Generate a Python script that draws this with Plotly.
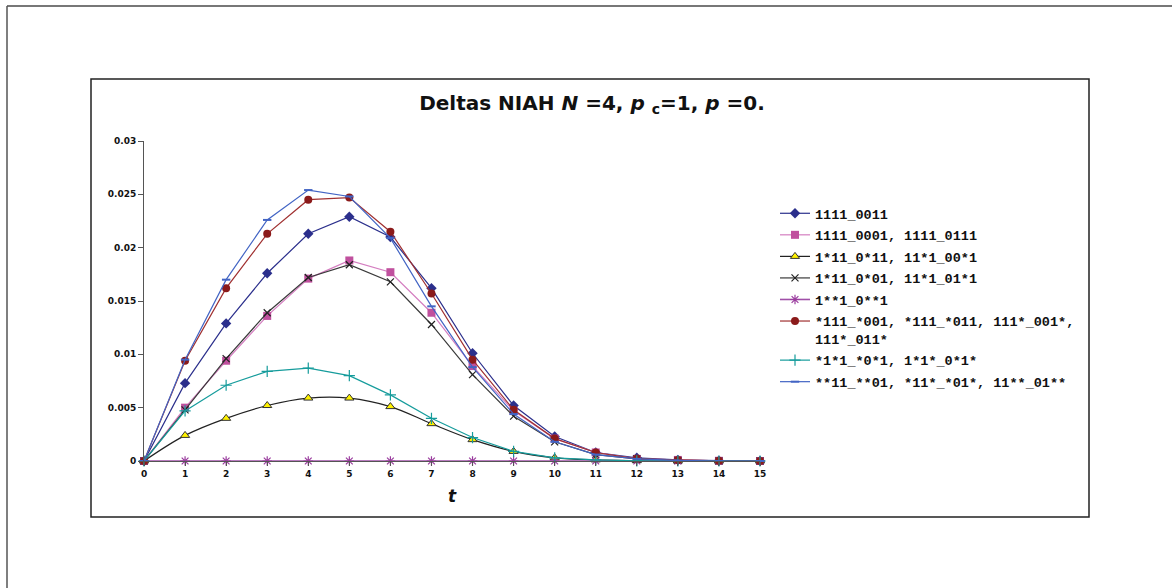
import plotly.graph_objects as go

W, H = 1172, 588

# time steps
t = list(range(16))

# series values (delta per time step)
s_1111_0011 = [0, 0.0073, 0.0129, 0.0176, 0.0213, 0.0229, 0.0210, 0.0162, 0.0101, 0.0052,
               0.0023, 0.0008, 0.0003, 0.0001, 0.00003, 0.00001]
s_1111_0001 = [0, 0.0050, 0.0094, 0.0136, 0.0171, 0.0188, 0.0177, 0.0139, 0.0089, 0.0047,
               0.0021, 0.0008, 0.0002, 0.0001, 0.00002, 0]
s_1x11_0x11 = [0, 0.0024, 0.0040, 0.0052, 0.0059, 0.0059, 0.0051, 0.0035, 0.0020, 0.0009,
               0.0003, 0.0001, 0.00003, 0, 0, 0]
s_1x11_0x01 = [0, 0.0048, 0.0096, 0.0139, 0.0172, 0.0184, 0.0168, 0.0128, 0.0081, 0.0042,
               0.0018, 0.0006, 0.0002, 0.00005, 0, 0]
s_1xx1_0xx1 = [0] * 16
s_x111_x001 = [0, 0.0094, 0.0162, 0.0213, 0.0245, 0.0247, 0.0215, 0.0157, 0.0095, 0.0048,
               0.0021, 0.0008, 0.0002, 0.0001, 0.00002, 0]
s_x1x1_x0x1 = [0, 0.0047, 0.0071, 0.0084, 0.0087, 0.0080, 0.0062, 0.0040, 0.0022, 0.0009,
               0.0003, 0.0001, 0.00002, 0, 0, 0]
s_xx11_xx01 = [0, 0.0095, 0.0170, 0.0226, 0.0254, 0.0248, 0.0209, 0.0145, 0.0088, 0.0044,
               0.0018, 0.0006, 0.0002, 0.00005, 0, 0]

labels = [
    "1111_0011",
    "1111_0001, 1111_0111",
    "1*11_0*11, 11*1_00*1",
    "1*11_0*01, 11*1_01*1",
    "1**1_0**1",
    "*111_*001, *111_*011, 111*_001*,<br>111*_011*",
    "*1*1_*0*1, 1*1*_0*1*",
    "**11_**01, *11*_*01*, 11**_01**",
]

y_tickvals = [0, 0.005, 0.01, 0.015, 0.02, 0.025, 0.03]
y_ticktext = ["0", "0.005", "0.01", "0.015", "0.02", "0.025", "0.03"]

# plot area in pixels
PL, PR, PT, PB = 144, 760, 141, 461


def px_x(p):
    return (p - PL) / (PR - PL)


def px_y(p):
    return (PB - p) / (PB - PT)


styles = [
    dict(line=dict(color="#2B2F8C", width=1.2),
         marker=dict(symbol="diamond", size=8, color="#2B2F8C")),
    dict(line=dict(color="#D47EC0", width=1.2),
         marker=dict(symbol="square", size=8, color="#C0509E")),
    dict(line=dict(color="#222222", width=1.2, shape="spline"),
         marker=dict(symbol="triangle-up", size=8, color="#FFF200",
                     line=dict(color="#333333", width=1))),
    dict(line=dict(color="#3A3A3A", width=1.2),
         marker=dict(symbol="x-thin-open", size=7, color="#222222",
                     line=dict(color="#222222", width=1.2))),
    dict(line=dict(color="#A050A8", width=1.6),
         marker=dict(symbol="asterisk-open", size=8, color="#9A3C9E",
                     line=dict(color="#9A3C9E", width=1.2))),
    dict(line=dict(color="#A03030", width=1.2),
         marker=dict(symbol="circle", size=8, color="#8B1A1A")),
    dict(line=dict(color="#169C9C", width=1.2),
         marker=dict(symbol="cross-thin-open", size=8, color="#169C9C",
                     line=dict(color="#169C9C", width=1.2))),
    dict(line=dict(color="#4264C4", width=1.2),
         marker=dict(symbol="line-ew-open", size=6, color="#4264C4",
                     line=dict(color="#4264C4", width=2))),
]

series = [s_1111_0011, s_1111_0001, s_1x11_0x11, s_1x11_0x01,
          s_1xx1_0xx1, s_x111_x001, s_x1x1_x0x1, s_xx11_xx01]

fig = go.Figure()
for i, (vals, lab, st) in enumerate(zip(series, labels, styles)):
    fig.add_trace(go.Scatter(
        x=t, y=vals, name=lab, mode="lines+markers",
        legendgroup=f"g{i}", cliponaxis=False, **st))

tick_font = dict(family="DejaVu Sans, Verdana", size=9, color="#111111", weight="bold")

fig.update_layout(
    width=W, height=H,
    autosize=False,
    paper_bgcolor="white",
    plot_bgcolor="white",
    margin=dict(l=PL, r=W - PR, t=PT, b=H - PB, autoexpand=False),
    title=dict(
        text="Deltas NIAH <i>N</i> =4, <i>p</i> <sub>c</sub>=1, <i>p</i> =0.",
        x=592 / W, xref="container", xanchor="center",
        y=1 - 103 / H, yref="container", yanchor="middle",
        font=dict(family="DejaVu Sans, Verdana", size=20, color="#111111", weight="bold"),
    ),
    xaxis=dict(
        range=[0, 15], tickmode="array", tickvals=t, ticktext=[str(v) for v in t],
        showgrid=False, zeroline=False, showline=True, linecolor="#555555", linewidth=1,
        ticks="outside", ticklen=4, tickcolor="#555555", tickfont=tick_font,
        title=dict(text="<i>t</i>", standoff=12,
                   font=dict(family="DejaVu Sans, Verdana", size=17, color="#111111",
                             weight="bold")),
    ),
    yaxis=dict(
        range=[0, 0.03], tickmode="array", tickvals=y_tickvals, ticktext=y_ticktext,
        showgrid=False, zeroline=False, showline=True, linecolor="#555555", linewidth=1,
        ticks="outside", ticklen=5, tickcolor="#555555", tickfont=tick_font,
    ),
    legend=dict(
        xref="paper", yref="paper",
        x=px_x(775), y=px_y(198), xanchor="left", yanchor="top",
        font=dict(family="Liberation Mono, Courier New, monospace", size=13.5,
                  color="#111111", weight="bold"),
        tracegroupgap=1, valign="top", bgcolor="rgba(0,0,0,0)",
        itemwidth=30,
    ),
    showlegend=True,
)

# outer frame (top and left edges) and inner chart box
fig.add_shape(type="line", xref="paper", yref="paper",
              x0=px_x(7), x1=px_x(W + 5), y0=px_y(6), y1=px_y(6),
              line=dict(color="#777777", width=2))
fig.add_shape(type="line", xref="paper", yref="paper",
              x0=px_x(7), x1=px_x(7), y0=px_y(6), y1=px_y(H + 5),
              line=dict(color="#555555", width=1.5))
fig.add_shape(type="rect", xref="paper", yref="paper",
              x0=px_x(91), x1=px_x(1089), y0=px_y(79), y1=px_y(517),
              line=dict(color="#222222", width=1.5))

fig.write_html("out.html")
